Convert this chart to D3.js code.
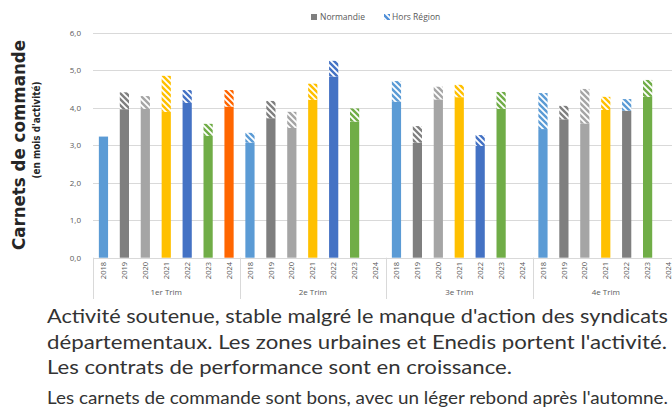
<!DOCTYPE html>
<html>
<head>
<meta charset="utf-8">
<script src="https://d3js.org/d3.v7.min.js"></script>
<style>
    body { margin: 0; background: #ffffff; }
    svg { display: block; }
</style>
</head>
<body>
<div id="chart"></div>
<script>

    // data
    var groups = ["1er Trim", "2e Trim", "3e Trim", "4e Trim"];
    var years = ["2018", "2019", "2020", "2021", "2022", "2023", "2024"];

    // Normandie part of each bar, one row per quarter (null = no bar)
    var normandie = [
        [3.23, 3.96, 3.97, 3.89, 4.13, 3.25, 4.03],
        [3.07, 3.72, 3.46, 4.21, 4.83, 3.63, null],
        [4.16, 3.07, 4.22, 4.28, 2.98, 3.97, null],
        [3.43, 3.69, 3.58, 3.94, 3.92, 4.29, null]
    ];

    // Hors Région part stacked on top
    var horsRegion = [
        [0.00, 0.45, 0.34, 0.96, 0.34, 0.32, 0.44],
        [0.26, 0.46, 0.43, 0.43, 0.42, 0.35, null],
        [0.55, 0.44, 0.34, 0.33, 0.29, 0.45, null],
        [0.96, 0.36, 0.92, 0.35, 0.31, 0.45, null]
    ];

    var yTicks = [0, 1, 2, 3, 4, 5, 6];

    var commentLines = [
        "Activité soutenue, stable malgré le manque d'action des syndicats",
        "départementaux. Les zones urbaines et Enedis portent l'activité.",
        "Les contrats de performance sont en croissance."
    ];
    var commentLast = "Les carnets de commande sont bons, avec un léger rebond après l'automne.";

    // colours per year
    var yearColors = {
        "2018": "#5b9bd5", "2019": "#7f7f7f", "2020": "#a5a5a5", "2021": "#ffc000",
        "2022": "#4472c4", "2023": "#70ad47", "2024": "#ff6600"
    };
    // the 4e Trim 2022 bar is drawn grey with a blue hatch in the original
    function baseColor(g, yr) {
        if (g === "4e Trim" && yr === "2022") return "#7f7f7f";
        return yearColors[yr];
    }
    function hatchColor(g, yr) {
        if (g === "4e Trim" && yr === "2022") return "#5b9bd5";
        return yearColors[yr];
    }

    var width = 672, height = 411;
    var plotLeft = 93, groupW = 146.5;
    var plotRight = plotLeft + groupW * groups.length;

    var svg = d3.select("#chart")
        .append("svg")
        .attr("width", width)
        .attr("height", height)
        .style("font-family", "'Open Sans', 'DejaVu Sans', sans-serif");

    var defs = svg.append("defs");

    // one diagonal hatch pattern per colour
    function hatchId(col) { return "hatch" + col.replace("#", ""); }
    var seen = {};
    function makeHatch(col) {
        if (seen[col]) return;
        seen[col] = true;
        var p = defs.append("pattern")
            .attr("id", hatchId(col))
            .attr("patternUnits", "userSpaceOnUse")
            .attr("width", 6)
            .attr("height", 6);
        p.append("rect").attr("width", 6).attr("height", 6).attr("fill", col);
        p.append("path")
            .attr("d", "M-1,-1L7,7M-1,5L1,7M5,-1L7,1")
            .attr("stroke", "#ffffff")
            .attr("stroke-width", 1.8);
    }

    // scales
    var x0 = d3.scaleBand()
        .domain(groups)
        .range([plotLeft, plotRight]);

    var x1 = d3.scaleBand()
        .domain(years)
        .range([0, x0.bandwidth()])
        .paddingInner(0.56)
        .paddingOuter(0.28);

    var y = d3.scaleLinear()
        .domain([0, 6])
        .range([257.7, 32.7]);

    // gridlines
    svg.append("g")
        .selectAll("line")
        .data(yTicks)
        .enter()
        .append("line")
        .attr("x1", plotLeft)
        .attr("x2", width)
        .attr("y1", function (d) { return Math.round(y(d)) + 0.5; })
        .attr("y2", function (d) { return Math.round(y(d)) + 0.5; })
        .attr("stroke", "#d9d9d9")
        .attr("stroke-width", 1);

    // y tick labels
    svg.append("g")
        .selectAll("text")
        .data(yTicks)
        .enter()
        .append("text")
        .attr("x", 81)
        .attr("y", function (d) { return y(d); })
        .attr("dy", "0.35em")
        .attr("text-anchor", "end")
        .attr("font-size", 8)
        .attr("fill", "#595959")
        .text(function (d) { return d3.format(".1f")(d).replace(".", ","); });

    // flatten rows for drawing
    var bars = [];
    groups.forEach(function (g, gi) {
        years.forEach(function (yr, yi) {
            if (normandie[gi][yi] == null) return;
            bars.push({group: g, year: yr, norm: normandie[gi][yi], hors: horsRegion[gi][yi]});
        });
    });
    bars.forEach(function (d) { makeHatch(hatchColor(d.group, d.year)); });
    makeHatch("#4f8fd8");

    var barG = svg.append("g");

    // Normandie part
    barG.selectAll("rect.norm")
        .data(bars)
        .enter()
        .append("rect")
        .attr("class", "norm")
        .attr("x", function (d) { return x0(d.group) + x1(d.year); })
        .attr("width", x1.bandwidth())
        .attr("y", function (d) { return y(d.norm); })
        .attr("height", function (d) { return y(0) - y(d.norm); })
        .attr("fill", function (d) { return baseColor(d.group, d.year); });

    // Hors Région part (hatched)
    barG.selectAll("rect.hors")
        .data(bars.filter(function (d) { return d.hors > 0; }))
        .enter()
        .append("rect")
        .attr("class", "hors")
        .attr("x", function (d) { return x0(d.group) + x1(d.year); })
        .attr("width", x1.bandwidth())
        .attr("y", function (d) { return y(d.norm + d.hors); })
        .attr("height", function (d) { return y(d.norm) - y(d.norm + d.hors); })
        .attr("fill", function (d) { return "url(#" + hatchId(hatchColor(d.group, d.year)) + ")"; });

    // x axis: year labels, group labels and dividers
    var xAxis = svg.append("g");
    groups.forEach(function (g) {
        xAxis.selectAll(null)
            .data(years)
            .enter()
            .append("text")
            .attr("transform", function (yr) {
                return "translate(" + (x0(g) + x1(yr) + x1.bandwidth() / 2) + ",262) rotate(-90)";
            })
            .attr("dy", "0.35em")
            .attr("text-anchor", "end")
            .attr("font-size", 7.5)
            .attr("fill", "#595959")
            .text(function (yr) { return yr; });
    });

    xAxis.selectAll("text.grp")
        .data(groups)
        .enter()
        .append("text")
        .attr("class", "grp")
        .attr("x", function (g) { return x0(g) + x0.bandwidth() / 2; })
        .attr("y", 294.5)
        .attr("text-anchor", "middle")
        .attr("font-size", 8)
        .attr("fill", "#595959")
        .text(function (g) { return g; });

    xAxis.selectAll("line.div")
        .data(groups.concat(["end"]))
        .enter()
        .append("line")
        .attr("class", "div")
        .attr("x1", function (g, i) { return Math.round(plotLeft + i * groupW) + 0.5; })
        .attr("x2", function (g, i) { return Math.round(plotLeft + i * groupW) + 0.5; })
        .attr("y1", y(0))
        .attr("y2", 299)
        .attr("stroke", "#d9d9d9");

    // y axis titles
    svg.append("text")
        .attr("transform", "translate(25,145) rotate(-90)")
        .attr("text-anchor", "middle")
        .attr("font-family", "'DejaVu Sans', sans-serif")
        .attr("font-weight", "bold")
        .attr("font-size", 18)
        .attr("textLength", 210)
        .attr("lengthAdjust", "spacingAndGlyphs")
        .attr("fill", "#262626")
        .text("Carnets de commande");

    svg.append("text")
        .attr("transform", "translate(40,130) rotate(-90)")
        .attr("text-anchor", "middle")
        .attr("font-family", "'DejaVu Sans', sans-serif")
        .attr("font-weight", "bold")
        .attr("font-size", 10)
        .attr("textLength", 97)
        .attr("lengthAdjust", "spacingAndGlyphs")
        .attr("fill", "#262626")
        .text("(en mois d'activité)");

    // legend
    var legend = svg.append("g").attr("font-size", 8.5).attr("fill", "#595959");
    legend.append("rect").attr("x", 311).attr("y", 14).attr("width", 6).attr("height", 6).attr("fill", "#7f7f7f");
    legend.append("text").attr("x", 320).attr("y", 17).attr("dy", "0.35em").text("Normandie");
    legend.append("rect").attr("x", 384).attr("y", 14).attr("width", 6).attr("height", 6)
        .attr("fill", "url(#" + hatchId("#4f8fd8") + ")");
    legend.append("text").attr("x", 392).attr("y", 17).attr("dy", "0.35em").text("Hors Région");

    // comment text under the chart
    var notes = svg.append("g").attr("fill", "#333333");
    notes.selectAll("text.line")
        .data(commentLines)
        .enter()
        .append("text")
        .attr("class", "line")
        .attr("x", 47)
        .attr("y", function (d, i) { return 323 + i * 25.5; })
        .attr("font-family", "Lato, 'Open Sans', sans-serif")
        .attr("font-size", 19)
        .attr("textLength", function (d, i) { return [621, 620, 465][i]; })
        .attr("lengthAdjust", "spacingAndGlyphs")
        .text(function (d) { return d; });

    notes.append("text")
        .attr("x", 47)
        .attr("y", 404)
        .attr("font-family", "Lato, 'Open Sans', sans-serif")
        .attr("font-size", 17)
        .attr("textLength", 621)
        .attr("lengthAdjust", "spacingAndGlyphs")
        .text(commentLast);

</script>
</body>
</html>
